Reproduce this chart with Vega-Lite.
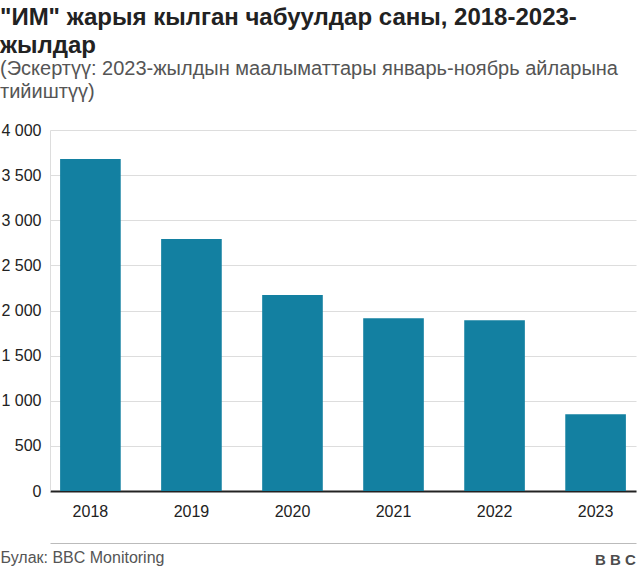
{
  "$schema": "https://vega.github.io/schema/vega-lite/v6.json",
  "width": 586,
  "height": 361,
  "autosize": {"type": "none"},
  "padding": {"left": 50, "top": 130, "right": 4, "bottom": 80},
  "background": "white",
  "config": {
    "font": "Liberation Sans",
    "view": {"stroke": null}
  },
  "title": {
    "text": ["\"ИМ\" жарыя кылган чабуулдар саны, 2018-2023-", "жылдар"],
    "subtitle": ["(Эскертүү: 2023-жылдын маалыматтары январь-ноябрь айларына", "тийиштүү)"],
    "anchor": "start",
    "frame": "group",
    "dx": -50,
    "offset": 20,
    "fontSize": 24,
    "fontWeight": "bold",
    "color": "#222222",
    "lineHeight": 28,
    "subtitleFontSize": 20,
    "subtitleColor": "#555555",
    "subtitleLineHeight": 23,
    "subtitlePadding": 1
  },
  "data": {
    "values": [
      {"year": "2018", "attacks": 3680},
      {"year": "2019", "attacks": 2792},
      {"year": "2020", "attacks": 2172},
      {"year": "2021", "attacks": 1915},
      {"year": "2022", "attacks": 1893},
      {"year": "2023", "attacks": 850}
    ]
  },
  "layer": [
    {
      "mark": {"type": "bar", "color": "#1380A1"},
      "encoding": {
        "x": {
          "field": "year",
          "type": "ordinal",
          "scale": {"paddingInner": 0.4, "paddingOuter": 0.1},
          "axis": {
            "labelAngle": 0,
            "labelFontSize": 16,
            "labelColor": "#222222",
            "labelPadding": 12,
            "ticks": false,
            "domainColor": "#222222",
            "domainWidth": 2,
            "title": "Булак: BBC Monitoring",
            "titleFontSize": 16,
            "titleFontWeight": "normal",
            "titleColor": "#555555",
            "titleAnchor": "start",
            "titleAlign": "left",
            "titleBaseline": "alphabetic",
            "titleX": -50,
            "titleY": 71
          }
        },
        "y": {
          "field": "attacks",
          "type": "quantitative",
          "scale": {"domain": [0, 4000]},
          "axis": {
            "values": [0, 500, 1000, 1500, 2000, 2500, 3000, 3500, 4000],
            "labelExpr": "replace(format(datum.value, ','), ',', ' ')",
            "labelFontSize": 16,
            "labelColor": "#222222",
            "labelPadding": 9,
            "ticks": false,
            "domainColor": "#dddddd",
            "gridColor": "#dddddd",
            "title": "B B C",
            "titleAngle": 0,
            "titleFontSize": 15,
            "titleFontWeight": "bold",
            "titleColor": "#4d4d4d",
            "titleAlign": "center",
            "titleBaseline": "alphabetic",
            "titleX": 565,
            "titleY": 434
          }
        }
      }
    },
    {
      "mark": {"type": "bar", "opacity": 0},
      "encoding": {
        "x": {
          "field": "year",
          "type": "ordinal",
          "axis": {
            "orient": "bottom",
            "offset": 52,
            "labels": false,
            "ticks": false,
            "domainColor": "#bbbbbb",
            "domainWidth": 1,
            "title": null
          }
        },
        "y": {"field": "attacks", "type": "quantitative"}
      }
    }
  ],
  "resolve": {"scale": {"x": "independent"}, "axis": {"x": "independent"}}
}
